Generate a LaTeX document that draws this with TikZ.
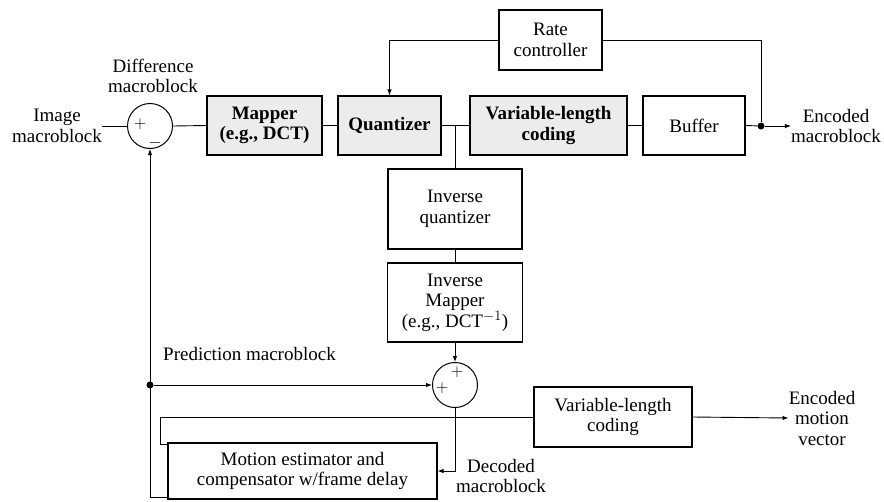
\documentclass[tikz,border=0pt]{standalone}
\usepackage{fontspec}
\setmainfont{Liberation Serif}
\usetikzlibrary{arrows.meta,positioning}
\tikzset{
  blk/.style={draw,line width=1.1pt,inner sep=0pt,align=center},
  shd/.style={blk,fill=gray!15,font=\fontsize{19}{20.5}\selectfont\bfseries},
  sumc/.style={draw,line width=1pt,circle,minimum size=45pt,inner sep=0pt},
  sgn/.style={inner sep=0pt,font=\fontsize{19}{19}\selectfont},
  lbl/.style={align=center,inner sep=0pt},
  ln/.style={line width=0.9pt},
  arr/.style={ln,-{Latex[length=6pt,width=4.5pt]}},
  jdot/.style={circle,fill,inner sep=0pt,minimum size=7pt}
}

\begin{document}
\begin{tikzpicture}[x=1pt,y=-1pt,font=\fontsize{19}{20.5}\selectfont]
    \useasboundingbox (0,0) rectangle (884,501);
    % forward path
    \node[lbl] (img) at (57,126) {Image\\macroblock};
    \node[sumc] (diff) at (150,126) {};
    \node[sgn] at (140,124) {$+$};
    \node[sgn] at (155,143) {$-$};
    \node[lbl] (dmb) at (153,76) {Difference\\macroblock};
    \node[shd,minimum width=115pt,minimum height=59pt] (mapper) at (264.5,125.5) {Mapper\\(e.g., DCT)};
    \node[shd,minimum width=103pt,minimum height=59pt] (quant) at (389.5,125.5) {Quantizer};
    \node[shd,minimum width=157pt,minimum height=59pt] (vlc) at (548.5,125.5) {Variable-length\\coding};
    \node[blk,minimum width=102pt,minimum height=59pt] (buffer) at (694,125.5) {Buffer};
    \node[blk,minimum width=103pt,minimum height=60pt] (rate) at (550.5,40) {Rate\\controller};
    \node[jdot] (eout) at (761,126) {};
    \node[lbl] (encmb) at (836,126) {Encoded\\macroblock};
    % decoding loop
    \node[blk,minimum width=134pt,minimum height=80pt] (iquant) at (455,209) {Inverse\\quantizer};
    \node[blk,minimum width=135pt,minimum height=79pt] (imap) at (455,302.5) {Inverse\\Mapper\\(e.g., DCT$^{-1}$)};
    \node[sumc] (sum) at (455,385) {};
    \node[sgn] at (442,388) {$+$};
    \node[sgn] at (457,372) {$+$};
    \node[jdot] (pdot) at (150,385) {};
    \node[lbl,anchor=west] (pmb) at (163,354) {Prediction macroblock};
    \node[blk,minimum width=269pt,minimum height=56pt] (motion) at (302.5,471) {Motion estimator and\\compensator w/frame delay};
    \node[lbl] (decmb) at (501,476) {Decoded\\macroblock};
    \node[blk,minimum width=158pt,minimum height=60pt] (vlc2) at (613,417) {Variable-length\\coding};
    \node[lbl] (encmv) at (822,418) {Encoded\\motion\\vector};
    \coordinate (jq) at (455,126);
    % connectors
    \draw[ln] (img.east) -- (diff.west);
    \draw[ln] (diff.east) -- (mapper.west);
    \draw[ln] (mapper.east) -- (quant.west);
    \draw[ln] (quant.east) -- (vlc.west);
    \draw[ln] (vlc.east) -- (buffer.west);
    \draw[ln] (buffer.east) -- (eout);
    \draw[arr] (eout) -- (encmb.west);
    \draw[ln] (eout) |- (rate.east);
    \draw[arr] (rate.west) -| (quant.north);
    \draw[ln] (jq) -- (iquant.north);
    \draw[ln] (iquant.south) -- (imap.north);
    \draw[arr] (imap.south) -- (sum.north);
    \draw[arr] (pdot) -- (sum.west);
    \draw[arr] ([yshift=2pt]motion.south west) -| (diff.south);
    \draw[arr] (sum.south) |- (motion.east);
    \draw[ln] ([yshift=-2pt]motion.north west) -- ++(-7,0) |- (vlc2.west);
    \draw[arr] (vlc2.east) -- (encmv.west);
  \end{tikzpicture}
\end{document}
